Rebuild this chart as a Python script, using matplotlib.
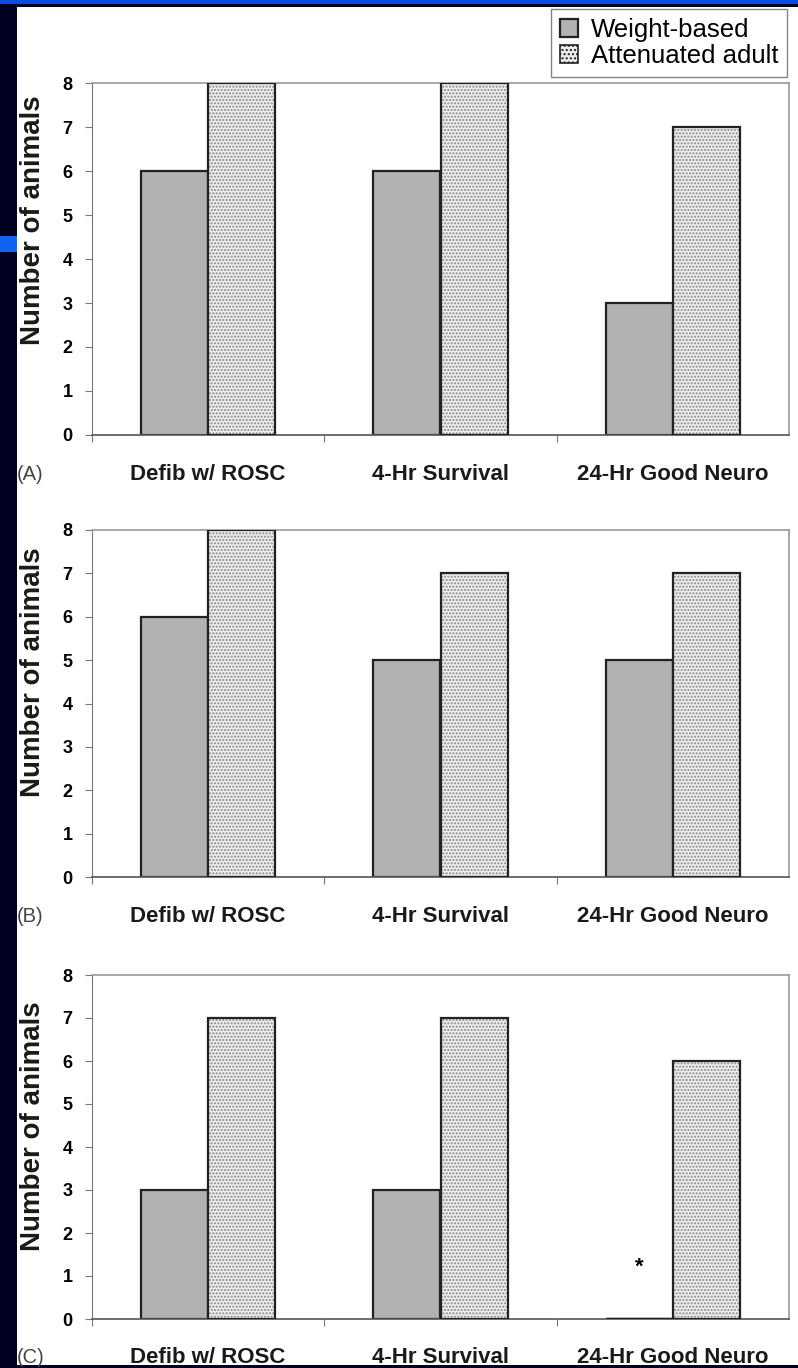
import matplotlib.pyplot as plt
from matplotlib.patches import Rectangle
import numpy as np

plt.rcParams['font.family'] = ['Liberation Sans', 'DejaVu Sans']

categories = ["Defib w/ ROSC", "4-Hr Survival", "24-Hr Good Neuro"]
series_names = ["Weight-based", "Attenuated adult"]
panel_tags = ["(A)", "(B)", "(C)"]

weight_a = [6, 6, 3]
atten_a = [8, 8, 7]
weight_b = [6, 5, 5]
atten_b = [8, 7, 7]
weight_c = [3, 3, 0]
atten_c = [7, 7, 6]

BAR_W = 0.289
W, H = 798, 1368


def fy(y):
    return 1 - y / H


fig = plt.figure(figsize=(W / 100, H / 100), dpi=100, facecolor='#000020')

# slide background pieces
fig.patches.append(Rectangle((17 / W, fy(1365)), 1 - 17 / W, (1365 - 7) / H,
                             transform=fig.transFigure, facecolor='white', edgecolor='none', zorder=-5))
fig.patches.append(Rectangle((0, fy(4)), 1, 4 / H, transform=fig.transFigure,
                             facecolor='#0a4ee0', edgecolor='none', zorder=-5))
fig.patches.append(Rectangle((0, fy(252)), 17 / W, 16 / H, transform=fig.transFigure,
                             facecolor='#1062f0', edgecolor='none', zorder=-5))

# (values, values, top px, bottom px, ylabel centre as axes fraction)
panels = [
    (weight_a, atten_a, 83, 435, 0.61),
    (weight_b, atten_b, 530, 877, 0.59),
    (weight_c, atten_c, 975, 1319, 0.56),
]

x = np.arange(len(categories))
left, right = 92, 789
axes = []
for i, (wv, av, top, bot, lab_y) in enumerate(panels):
    ax = fig.add_axes([left / W, fy(bot), (right - left) / W, (bot - top) / H])
    ax.set_facecolor('none')
    axes.append(ax)

    b1 = ax.bar(x - BAR_W / 2, wv, BAR_W, color='#b2b2b2', edgecolor='#222222',
                linewidth=1.6, label=series_names[0], zorder=2)
    ax.bar(x + BAR_W / 2, av, BAR_W, color='#ececec', edgecolor='#8a8a8a',
           hatch='.....', linewidth=0, zorder=2)
    ax.bar(x + BAR_W / 2, av, BAR_W, fill=False, edgecolor='#222222',
           linewidth=1.6, zorder=3)

    ax.set_xlim(-0.5, 2.5)
    ax.set_ylim(0, 8)
    ax.set_yticks(range(9))
    ax.set_yticklabels([str(v) for v in range(9)], fontsize=13, fontweight='bold')
    ax.tick_params(axis='y', direction='out', length=5, color='#777777', pad=9)
    ax.set_xticks([-0.5, 0.5, 1.5])
    ax.set_xticklabels([])
    ax.tick_params(axis='x', direction='out', length=5, color='#777777')
    for k, c in enumerate(categories):
        ax.text(k, -0.9, c, ha='center', va='center', fontsize=16, fontweight='bold',
                color='#1a1a1a')
    ax.text(-0.5 - 75 / 232, -0.9, panel_tags[i], ha='left', va='center',
            fontsize=14.5, color='#444444')
    ax.set_ylabel("Number of animals", fontsize=20, fontweight='bold', color='#1a1a1a')
    ax.yaxis.set_label_coords(-0.066, lab_y)

    for s in ['top', 'right']:
        ax.spines[s].set_color('#999999')
        ax.spines[s].set_linewidth(1.2)
    ax.spines['left'].set_color('#777777')
    ax.spines['bottom'].set_color('#555555')
    ax.spines['bottom'].set_linewidth(1.2)

    if i == 0:
        handles = [b1, Rectangle((0, 0), 1, 1, facecolor='#ececec', edgecolor='#222222',
                                 hatch='....', linewidth=1.2)]

# zero-height bar in (C) shows as a dark line on the baseline
axes[2].hlines(0, 2 - BAR_W, 2, color='#222222', linewidth=2.5, zorder=4)
axes[2].text(2 - BAR_W / 2, 1.2, '*', ha='center', va='center', fontsize=16, fontweight='bold')

fig.legend(handles, series_names, loc='upper right',
           bbox_to_anchor=(787 / W, fy(9)), fontsize=18.5, frameon=True,
           fancybox=False, edgecolor='#666666', handlelength=0.7, handleheight=0.7,
           handletextpad=0.5, borderpad=0.35, labelspacing=0.08, borderaxespad=0)

fig.savefig('out.png', dpi=100, facecolor=fig.get_facecolor())
